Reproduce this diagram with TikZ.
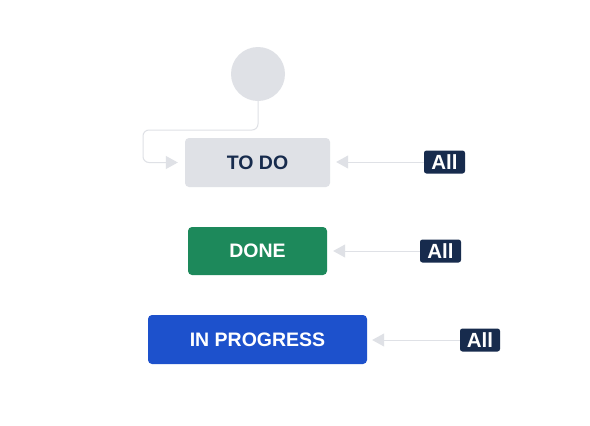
\documentclass[tikz,border=0pt]{standalone}
\usepackage{fontspec}
\setmainfont{Liberation Sans}
\usetikzlibrary{arrows.meta}
\definecolor{lgray}{RGB}{223,225,230}
\definecolor{navy}{RGB}{23,43,77}
\definecolor{jgreen}{RGB}{29,137,91}
\definecolor{jblue}{RGB}{29,81,204}
\tikzset{
  status/.style={rounded corners=4pt, inner sep=0pt, font=\fontsize{19.5}{21}\selectfont\bfseries},
  badge/.style={fill=navy, rounded corners=2.5pt, inner sep=0pt, minimum width=41pt, minimum height=23pt, text=white, font=\fontsize{20.5}{22}\selectfont\bfseries},
  conn/.style={draw=lgray, line width=1pt, -{Triangle[length=12pt,width=13pt,fill=lgray]}},
}
\begin{document}
\begin{tikzpicture}[x=1pt,y=-1pt]
\useasboundingbox[fill=white] (0,0) rectangle (590,426);
\node[circle, fill=lgray, minimum size=54pt, inner sep=0pt] (start) at (258,74) {};
\node[status, fill=lgray, text=navy, minimum width=145pt, minimum height=49pt] (todo) at (257.5,162.5) {TO DO};
\node[status, fill=jgreen, text=white, minimum width=139pt, minimum height=48pt] (done) at (257.5,251) {DONE};
\node[status, fill=jblue, text=white, minimum width=219pt, minimum height=49pt] (inprog) at (257.5,339.5) {IN PROGRESS};
\node[badge] (all1) at (444.5,162) {All};
\node[badge] (all2) at (440.5,251) {All};
\node[badge, minimum width=40pt] (all3) at (480,340) {All};
\coordinate (bend) at (143,130);
\draw[conn, rounded corners=6pt, shorten >=7pt] (start.south) |- (bend) |- (todo.west);
\draw[conn, shorten >=6pt] (all1.west) -- (all1.west -| todo.east);
\draw[conn, shorten >=6pt] (all2.west) -- (all2.west -| done.east);
\draw[conn, shorten >=5pt] (all3.west) -- (all3.west -| inprog.east);
\end{tikzpicture}
\end{document}
